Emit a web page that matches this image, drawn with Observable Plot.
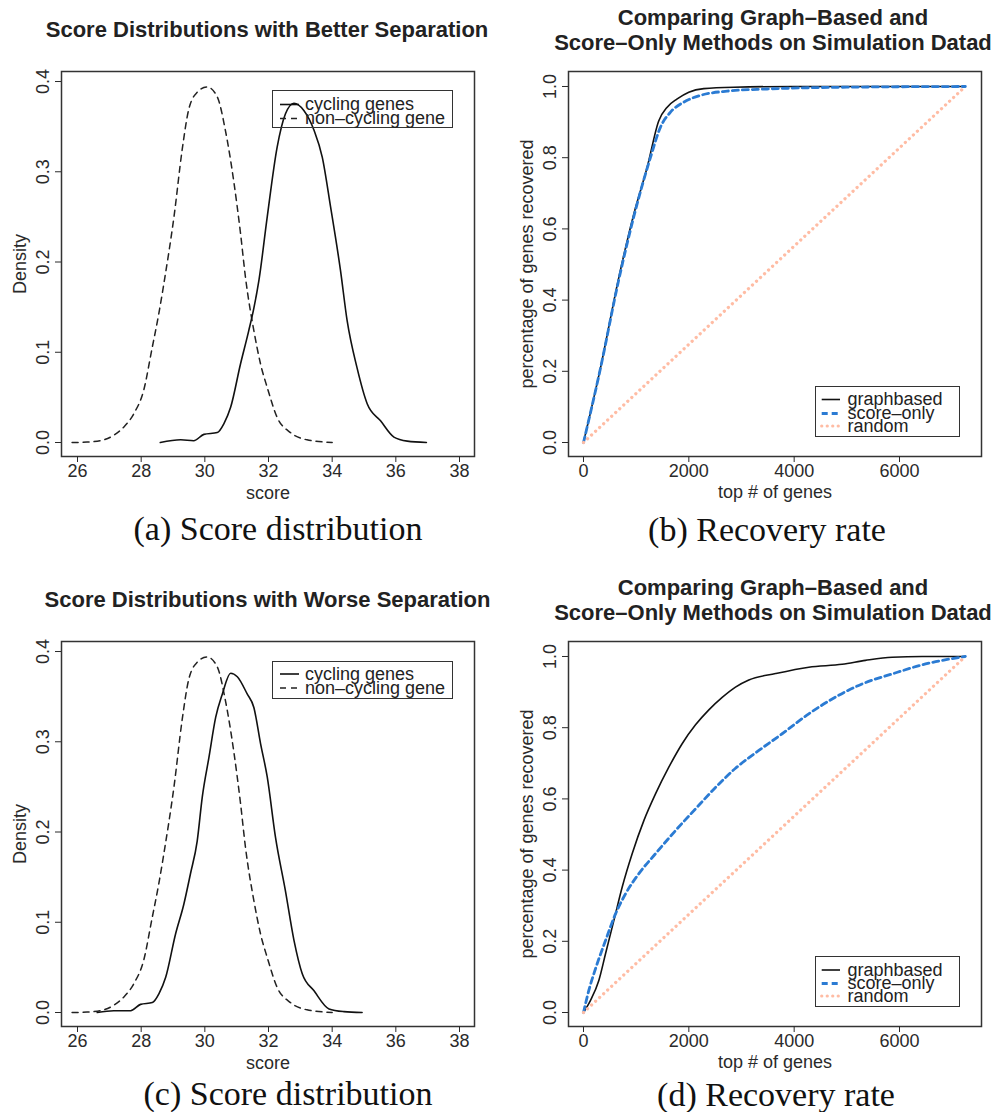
<!DOCTYPE html>
<html><head><meta charset="utf-8">
<script src="https://cdn.jsdelivr.net/npm/d3@7"></script>
<script src="https://cdn.jsdelivr.net/npm/@observablehq/plot@0.6"></script>
<style>
body{margin:0;background:#fff;}
#root{position:relative;width:995px;height:1112px;overflow:hidden;font-family:"Liberation Sans",Arial,Helvetica,sans-serif;color:#222;background:#fff;}
.title{position:absolute;font-weight:bold;font-size:22px;line-height:1;white-space:nowrap;transform:translate(-50%,-50%);color:#222;}
.caption{position:absolute;font-family:"Liberation Serif","Times New Roman",serif;font-size:34px;line-height:1;white-space:nowrap;transform:translate(-50%,-50%);color:#111;}
.legend{position:absolute;border:1.5px solid #333;box-sizing:border-box;}
.legrow{position:absolute;font-size:18px;line-height:1;white-space:nowrap;transform:translateY(-50%);color:#222;}
.panel{position:absolute;}
</style></head><body><div id="root"></div>
<script>
// ---------- data ----------
const scoreTicks = [26, 28, 30, 32, 34, 36, 38];
const densityTicks = [0, 0.1, 0.2, 0.3, 0.4];
const geneTicks = [0, 2000, 4000, 6000];
const rateTicks = [0, 0.2, 0.4, 0.6, 0.8, 1.0];

const panelTitles = [
  ["Score Distributions with Better Separation"],
  ["Comparing Graph–Based and", "Score–Only Methods on Simulation Datad"],
  ["Score Distributions with Worse Separation"],
  ["Comparing Graph–Based and", "Score–Only Methods on Simulation Datad"]
];
const captions = ["(a) Score distribution", "(b) Recovery rate", "(c) Score distribution", "(d) Recovery rate"];
const densityLegend = ["cycling genes", "non–cycling gene"];
const recoveryLegend = ["graphbased", "score–only", "random"];

// non-cycling genes density (same in a and c)
const nonCyclingScore = [25.83, 26.3, 26.72, 27.14, 27.45, 27.77, 28.08, 28.34, 28.55, 28.74, 29.03, 29.29, 29.5, 29.76, 30.07, 30.39, 30.65, 30.91, 31.12, 31.28, 31.54, 31.75, 31.96, 32.27, 32.69, 33.21, 34.0];
const nonCyclingDensity = [0, 0.0005, 0.002, 0.008, 0.017, 0.032, 0.058, 0.104, 0.142, 0.182, 0.25, 0.325, 0.37, 0.388, 0.394, 0.383, 0.345, 0.289, 0.232, 0.182, 0.124, 0.087, 0.061, 0.028, 0.011, 0.003, 0];

// cycling genes, better separation (a)
const cyclingBetterScore = [28.6, 29.24, 29.65, 29.97, 30.39, 30.6, 30.81, 31.12, 31.38, 31.54, 31.7, 31.96, 32.27, 32.53, 32.8, 33.11, 33.43, 33.69, 33.95, 34.26, 34.47, 34.78, 35.1, 35.52, 35.94, 36.36, 36.96];
const cyclingBetterDensity = [0, 0.003, 0.002, 0.009, 0.011, 0.021, 0.039, 0.087, 0.124, 0.149, 0.18, 0.25, 0.327, 0.364, 0.376, 0.368, 0.346, 0.316, 0.261, 0.191, 0.135, 0.083, 0.043, 0.024, 0.006, 0.0015, 0];

// cycling genes, worse separation (c)
const cyclingWorseScore = [26.62, 27.14, 27.67, 27.98, 28.35, 28.56, 28.77, 29.08, 29.34, 29.55, 29.76, 29.92, 30.13, 30.34, 30.55, 30.81, 31.02, 31.33, 31.54, 31.75, 31.96, 32.22, 32.53, 32.8, 33.06, 33.43, 33.9, 34.37, 34.94];
const cyclingWorseDensity = [0, 0.002, 0.002, 0.009, 0.011, 0.021, 0.039, 0.087, 0.12, 0.154, 0.19, 0.239, 0.283, 0.327, 0.353, 0.376, 0.372, 0.353, 0.338, 0.298, 0.261, 0.194, 0.135, 0.08, 0.043, 0.024, 0.004, 0.001, 0];

// recovery rate (b)
const graphBGenes = [0, 310, 671, 956, 1209, 1430, 1589, 1779, 1999, 2284, 2854, 4000, 7250];
const graphBRate = [0, 0.201, 0.464, 0.642, 0.773, 0.904, 0.942, 0.965, 0.984, 0.994, 0.998, 1, 1];
const scoreBGenes = [0, 310, 671, 956, 1272, 1462, 1652, 1904, 2221, 2728, 3488, 5000, 7250];
const scoreBRate = [0, 0.2, 0.458, 0.635, 0.801, 0.886, 0.928, 0.956, 0.975, 0.987, 0.993, 0.998, 1];

// recovery rate (d)
const graphDGenes = [0, 133, 291, 418, 576, 734, 924, 1146, 1367, 1620, 1873, 2127, 2380, 2633, 2886, 3139, 3646, 4278, 4911, 5354, 5861, 6431, 7250];
const graphDRate = [0, 0.034, 0.09, 0.165, 0.258, 0.352, 0.446, 0.539, 0.614, 0.689, 0.755, 0.808, 0.85, 0.885, 0.914, 0.934, 0.952, 0.97, 0.978, 0.989, 0.998, 1, 1];
const scoreDGenes = [0, 101, 228, 418, 608, 797, 1051, 1367, 1747, 2127, 2506, 2886, 3329, 3772, 4278, 4785, 5291, 5861, 6494, 7250];
const scoreDRate = [0, 0.062, 0.123, 0.202, 0.277, 0.333, 0.39, 0.446, 0.511, 0.572, 0.632, 0.686, 0.736, 0.783, 0.839, 0.886, 0.923, 0.951, 0.979, 1];

// random baseline (b and d)
const randomGenes = [0, 7250];
const randomRate = [0, 1];

// ---------- styles ----------
const FONT = '"Liberation Sans", Arial, Helvetica, sans-serif';
const STY = {
  solid: {stroke: "#111", strokeWidth: 1.6},
  dashed: {stroke: "#222", strokeWidth: 1.5, strokeDasharray: "6,5"},
  blue: {stroke: "#2b7bd3", strokeWidth: 2.8, strokeDasharray: "6,4"},
  random: {stroke: "#ffbca4", strokeWidth: 3.2, strokeDasharray: "0.1,5.4", strokeLinecap: "round"}
};

const zip = (xs, ys) => xs.map((x, i) => ({x, y: ys[i]}));
const root = document.getElementById("root");

function addPanel(svg, left, top) {
  const d = document.createElement("div");
  d.className = "panel";
  d.style.left = left + "px";
  d.style.top = top + "px";
  d.appendChild(svg);
  root.appendChild(d);
}
function addText(cls, text, x, y) {
  const d = document.createElement("div");
  d.className = cls;
  d.textContent = text;
  d.style.left = x + "px";
  d.style.top = y + "px";
  root.appendChild(d);
}
function addLegend(box, labels, styles, rowYs, sampleX, textX) {
  const d = document.createElement("div");
  d.className = "legend";
  d.style.left = box[0] + "px";
  d.style.top = box[1] + "px";
  d.style.width = box[2] + "px";
  d.style.height = box[3] + "px";
  const svg = d3.create("svg").attr("width", box[2]).attr("height", box[3])
    .style("position", "absolute").style("left", "-1.5px").style("top", "-1.5px").style("overflow", "visible");
  labels.forEach((lab, i) => {
    const s = styles[i];
    svg.append("line")
      .attr("x1", sampleX[0]).attr("x2", sampleX[1])
      .attr("y1", rowYs[i]).attr("y2", rowYs[i])
      .attr("stroke", s.stroke).attr("stroke-width", s.strokeWidth)
      .attr("stroke-dasharray", s.strokeDasharray || null)
      .attr("stroke-linecap", s.strokeLinecap || null);
    const t = document.createElement("div");
    t.className = "legrow";
    t.textContent = lab;
    t.style.left = (textX - 1.5) + "px";
    t.style.top = (rowYs[i] - 1.5) + "px";
    d.appendChild(t);
  });
  d.appendChild(svg.node());
  root.appendChild(d);
}

function densityPlot(cycScore, cycDensity) {
  return Plot.plot({
    width: 495, height: 460,
    marginLeft: 61, marginRight: 21, marginTop: 11, marginBottom: 64,
    x: {domain: [25.497, 38.471]},
    y: {domain: [-0.0155, 0.4111]},
    style: {fontSize: "18px", fontFamily: FONT, color: "#2a2a2a", background: "transparent", overflow: "visible"},
    marks: [
      Plot.frame({stroke: "#333", strokeWidth: 1.5}),
      Plot.axisX({ticks: scoreTicks, tickSize: 6, tickPadding: 2, tickFormat: d => String(d),
        label: "score", labelAnchor: "center", labelOffset: 42, labelArrow: "none"}),
      Plot.axisY({ticks: densityTicks, tickSize: 6, tickPadding: 7, tickRotate: -90, tickFormat: d3.format(".1f"),
        label: "Density", labelAnchor: "center", labelOffset: 48, labelArrow: "none"}),
      Plot.line(zip(nonCyclingScore, nonCyclingDensity), {x: "x", y: "y", curve: "monotone-x", ...STY.dashed}),
      Plot.line(zip(cycScore, cycDensity), {x: "x", y: "y", curve: "monotone-x", ...STY.solid})
    ]
  });
}

function recoveryPlot(gG, gR, sG, sR) {
  return Plot.plot({
    width: 498, height: 460,
    marginLeft: 71, marginRight: 14, marginTop: 11, marginBottom: 64,
    x: {domain: [-284.8, 7556.9]},
    y: {domain: [-0.0393, 1.0421]},
    style: {fontSize: "18px", fontFamily: FONT, color: "#2a2a2a", background: "transparent", overflow: "visible"},
    marks: [
      Plot.frame({stroke: "#333", strokeWidth: 1.5}),
      Plot.axisX({ticks: geneTicks, tickSize: 6, tickPadding: 2, tickFormat: d => String(d),
        label: "top # of genes", labelAnchor: "center", labelOffset: 41, labelArrow: "none"}),
      Plot.axisY({ticks: rateTicks, tickSize: 6, tickPadding: 7, tickRotate: -90, tickFormat: d3.format(".1f"),
        label: "percentage of genes recovered", labelAnchor: "center", labelOffset: 48, labelArrow: "none"}),
      Plot.line(zip(gG, gR), {x: "x", y: "y", curve: "monotone-x", ...STY.solid}),
      Plot.line(zip(sG, sR), {x: "x", y: "y", curve: "monotone-x", ...STY.blue}),
      Plot.line(zip(randomGenes, randomRate), {x: "x", y: "y", ...STY.random})
    ]
  });
}

// ---------- layout ----------
addPanel(densityPlot(cyclingBetterScore, cyclingBetterDensity), 0, 60);
addPanel(recoveryPlot(graphBGenes, graphBRate, scoreBGenes, scoreBRate), 497, 60);
addPanel(densityPlot(cyclingWorseScore, cyclingWorseDensity), 0, 630);
addPanel(recoveryPlot(graphDGenes, graphDRate, scoreDGenes, scoreDRate), 497, 630);

// titles
addText("title", panelTitles[0][0], 267, 30.3);
addText("title", panelTitles[1][0], 773, 17.5);
addText("title", panelTitles[1][1], 773, 42.5);
addText("title", panelTitles[2][0], 267.5, 600.3);
addText("title", panelTitles[3][0], 773, 587.5);
addText("title", panelTitles[3][1], 773, 612.5);

// captions
addText("caption", captions[0], 278, 529);
addText("caption", captions[1], 767, 530);
addText("caption", captions[2], 288, 1094);
addText("caption", captions[3], 776, 1094.5);

// legends
addLegend([272, 90, 181, 38], densityLegend, [STY.solid, STY.dashed], [14.5, 28.5], [8, 27], 33.5);
addLegend([815, 386, 145, 51], recoveryLegend, [STY.solid, STY.blue, STY.random], [13.5, 27.5, 40], [6.7, 25], 33);
addLegend([272, 660.5, 181, 38], densityLegend, [STY.solid, STY.dashed], [14, 28], [8, 27], 33.5);
addLegend([815, 956, 145, 51], recoveryLegend, [STY.solid, STY.blue, STY.random], [14, 27.5, 40], [6.7, 25], 33);
</script></body></html>
